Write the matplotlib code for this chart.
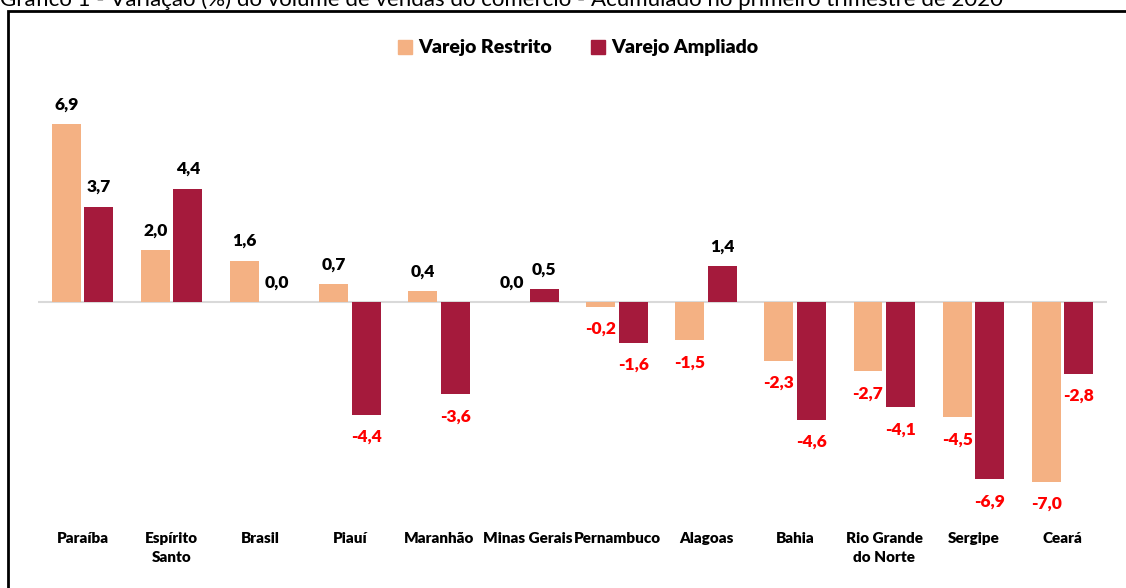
import matplotlib
matplotlib.use("Agg")
import matplotlib.pyplot as plt
from matplotlib.patches import Rectangle, Patch

plt.rcParams['font.family'] = ['Lato', 'DejaVu Sans']

categories = ["Paraíba", "Espírito\nSanto", "Brasil", "Piauí", "Maranhão", "Minas Gerais",
              "Pernambuco", "Alagoas", "Bahia", "Rio Grande\ndo Norte", "Sergipe", "Ceará"]
restrito = [6.9, 2.0, 1.6, 0.7, 0.4, 0.0, -0.2, -1.5, -2.3, -2.7, -4.5, -7.0]
ampliado = [3.7, 4.4, 0.0, -4.4, -3.6, 0.5, -1.6, 1.4, -4.6, -4.1, -6.9, -2.8]
series_names = ["Varejo Restrito", "Varejo Ampliado"]
title = "Gráfico 1 - Variação (%) do volume de vendas do comércio - Acumulado no primeiro trimestre de 2020"

W, H = 1126, 588
fig = plt.figure(figsize=(W / 100, H / 100), dpi=100)
fig.patch.set_facecolor("white")

left_px, right_px = 38, 1107
ax = fig.add_axes([left_px / W, 0, (right_px - left_px) / W, 1])
ax.set_xlim(-0.5, len(categories) - 0.5)
zero_px, scale = 301.7, 25.7
ax.set_ylim(-(H - zero_px) / scale, zero_px / scale)
ax.axis("off")

c_r, c_a = "#F4B183", "#A51A3C"
bw, off = 0.325, 0.183
x = list(range(len(categories)))
ax.bar([i - off for i in x], restrito, bw, color=c_r, zorder=2)
ax.bar([i + off for i in x], ampliado, bw, color=c_a, zorder=2)
ax.axhline(0, color="#D9D9D9", lw=1.5, zorder=1)

def fmt(v):
    return f"{v:.1f}".replace(".", ",")

for vals, o in ((restrito, -off), (ampliado, off)):
    for i, v in enumerate(vals):
        if v >= 0:
            ax.annotate(fmt(v), (i + o, v), xytext=(0, 14), textcoords="offset points",
                        ha="center", va="center", fontsize=12.5, fontweight="heavy", color="black")
        else:
            ax.annotate(fmt(v), (i + o, v), xytext=(0, -16), textcoords="offset points",
                        ha="center", va="center", fontsize=12.5, fontweight="heavy", color="#FF0000")

for i, c in enumerate(categories):
    ax.text(i, (zero_px - 532) / scale, c, ha="center", va="top", fontsize=11,
            fontweight="heavy", linespacing=1.55)

handles = [Patch(color=c_r, label=series_names[0]), Patch(color=c_a, label=series_names[1])]
fig.legend(handles=handles, loc="center", bbox_to_anchor=(578 / W, 1 - 48 / H), ncol=2,
           frameon=False, handlelength=0.75, handleheight=0.75, columnspacing=2.0,
           handletextpad=0.3, prop={"weight": "heavy", "size": 14})

fig.text(0, 1 - 6 / H, title, ha="left", va="baseline", fontsize=16)

fig.patches.append(Rectangle((8 / W, -0.1), 1.2, 1 - 11 / H + 0.1, transform=fig.transFigure,
                             fill=False, edgecolor="black", lw=2, clip_on=False))

fig.savefig("out.png", dpi=100)
